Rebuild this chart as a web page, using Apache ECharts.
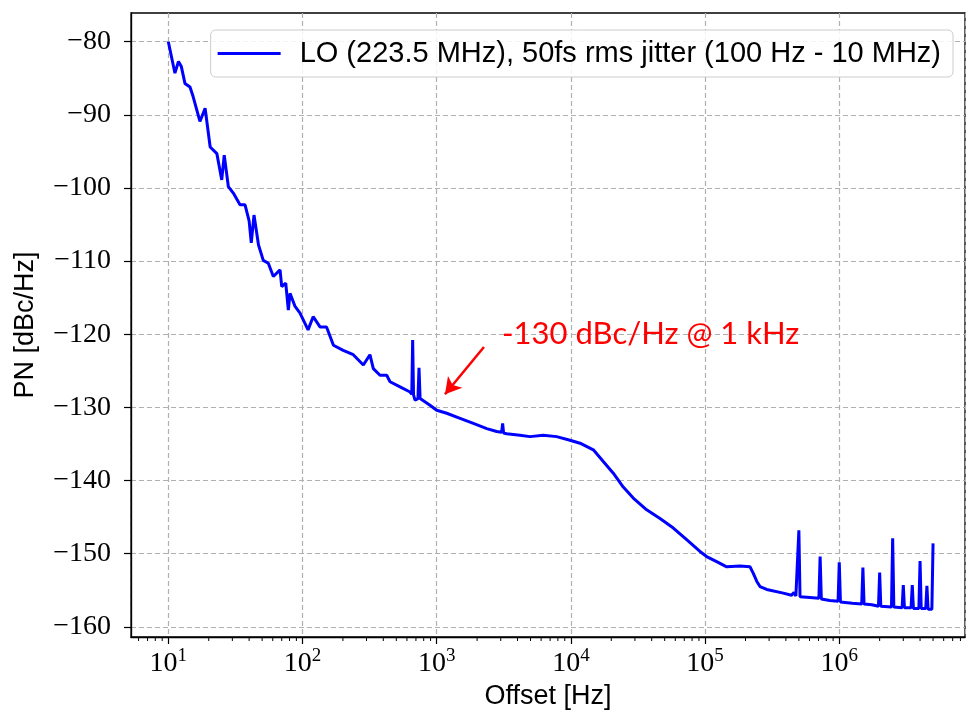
<!DOCTYPE html>
<html>
<head>
<meta charset="utf-8">
<title>LO phase noise</title>
<script src="https://cdn.jsdelivr.net/npm/echarts@6/dist/echarts.min.js"></script>
<style>
  html, body { margin: 0; padding: 0; background: #fff; }
  #chart { width: 966px; height: 715px; }
</style>
</head>
<body>
<div id="chart"></div>
<script>
// offset frequency (Hz) and phase noise (dBc/Hz)
var freqHz = [
  10, 11.2, 11.9, 12.5, 13.3, 14.5, 15.3, 17.2, 18.8, 20.5,
  23, 25, 26.1, 28, 30.5, 34.2, 37.3, 40, 41.5, 43.5,
  47, 51, 55.6, 60.6, 68, 70, 75, 78.4, 80.7, 88,
  95.8, 103, 110, 120, 135, 151, 170, 201, 239, 284,
  318, 337, 378, 424, 449, 533, 633, 652, 662, 672,
  689, 725, 738, 752, 773, 891, 1000, 1188, 1493, 1876,
  2360, 2800, 3050, 3100, 3150, 3324, 4170, 4955, 6223, 7830,
  9840, 11700, 14700, 17430, 20700, 24560, 29170, 36700, 46150, 58000,
  72900, 91600, 102700, 122000, 144900, 182000, 216000, 228800, 243000, 256600,
  288000, 383000, 441000, 460000, 475000, 490000, 500000, 510000, 605000, 705000,
  720000, 735000, 850000, 980000, 1000000, 1020000, 1250000, 1470000, 1500000, 1530000,
  1750000, 1960000, 2000000, 2040000, 2450000, 2500000, 2550000, 2940000, 3000000, 3060000,
  3430000, 3500000, 3570000, 3920000, 4000000, 4080000, 4410000, 4500000, 4590000, 4900000,
  5000000
];
var pnDbc = [
  -80, -84.3, -82.7, -83.4, -85.7, -86.2, -87.5, -90.9, -89.1, -94.4,
  -95.3, -98.9, -95.5, -99.8, -100.7, -102.3, -102.3, -104.5, -107.5, -103.7,
  -107.8, -109.9, -110.3, -112.1, -111.2, -113.5, -113, -116.7, -114.4, -116.2,
  -117.1, -118.3, -119.4, -117.6, -119, -119, -121.5, -122.2, -122.8, -124.2,
  -122.8, -124.7, -125.6, -125.6, -126.5, -127.2, -127.9, -128.2, -120.8, -128.3,
  -129, -128.8, -124.6, -128.8, -128.8, -129.7, -130.4, -130.8, -131.5, -132.2,
  -132.9, -133.3, -133.4, -132.2, -133.5, -133.6, -133.8, -134, -133.8, -134,
  -134.5, -134.9, -135.8, -137.4, -139, -140.9, -142.4, -144, -145.2, -146.5,
  -148.1, -149.7, -150.4, -151.1, -151.8, -151.7, -151.8, -152.7, -153.8, -154.5,
  -154.9, -155.4, -155.7, -155.3, -155.8, -155.8, -146.8, -155.9, -156, -156.1,
  -150.4, -156.2, -156.4, -156.5, -151.2, -156.6, -156.8, -156.9, -151.9, -156.9,
  -157, -157.2, -152.6, -157.2, -157.3, -147.9, -157.3, -157.4, -154.3, -157.4,
  -157.4, -154.3, -157.5, -157.5, -151, -157.5, -157.5, -154.4, -157.6, -157.6,
  -148.6
];

var seriesName = 'LO (223.5 MHz), 50fs rms jitter (100 Hz - 10 MHz)';
var yTicks = [-160, -150, -140, -130, -120, -110, -100, -90, -80];
var xMin = 5.27, xMax = 8.65e6;
var yMin = -161.4, yMax = -76.07;
var minorTicks = [];
[1, 10, 100, 1000, 10000, 100000, 1000000].forEach(function (d) {
  for (var k = 2; k <= 9; k++) {
    var v = k * d;
    if (v > xMin && v < xMax) minorTicks.push(v);
  }
});

var annotText = '-130 dBc/Hz @ 1 kHz';
var annotAt = [3070, -120];
var arrowFrom = [2250, -121.75];
var arrowTo = [1153, -128.2];

var lineData = freqHz.map(function (f, i) { return [f, pnDbc[i]]; });

var chart = echarts.init(document.getElementById('chart'));
var gridLine = { show: true, lineStyle: { color: '#b0b0b0', width: 1.2, type: [5, 3] } };

chart.setOption({
  animation: false,
  backgroundColor: '#fff',
  grid: { left: 131, right: 1, top: 13, bottom: 78, show: true, borderColor: '#000', borderWidth: 1.3 },
  legend: {
    right: 13, top: 30,
    padding: [9, 12, 9, 7],
    itemWidth: 63, itemHeight: 3,
    backgroundColor: 'rgba(255,255,255,0.85)',
    borderColor: '#cccccc', borderWidth: 1, borderRadius: 5,
    data: [{ name: seriesName, icon: 'rect' }],
    textStyle: { fontFamily: 'Liberation Sans', fontSize: 29, color: '#000', padding: [0, 0, 0, 14] }
  },
  xAxis: {
    type: 'log', logBase: 10, min: xMin, max: xMax,
    name: 'Offset [Hz]', nameLocation: 'middle', nameGap: 46,
    nameTextStyle: { fontFamily: 'Liberation Sans', fontSize: 27, color: '#000' },
    axisLine: { show: true, lineStyle: { color: '#000', width: 1.3 } },
    axisTick: { show: true, inside: false, length: 7, lineStyle: { color: '#000', width: 1.2 } },
    splitLine: gridLine,
    axisLabel: {
      margin: 10, showMinLabel: false, showMaxLabel: false,
      formatter: function (v) {
        var e = Math.round(Math.log10(v));
        if (Math.abs(v - Math.pow(10, e)) > 1e-6 * v) return '';
        return '{b|10}{s|' + e + '}';
      },
      rich: {
        b: { fontFamily: 'Liberation Serif', fontSize: 28, color: '#000', lineHeight: 34 },
        s: { fontFamily: 'Liberation Serif', fontSize: 19, color: '#000', verticalAlign: 'top', lineHeight: 20 }
      }
    }
  },
  yAxis: {
    type: 'value', min: yMin, max: yMax,
    name: 'PN [dBc/Hz]', nameLocation: 'middle', nameGap: 92,
    nameTextStyle: { fontFamily: 'Liberation Sans', fontSize: 27, color: '#000' },
    axisLine: { show: true, lineStyle: { color: '#000', width: 1.3 } },
    axisTick: { show: true, inside: false, length: 7, customValues: yTicks, lineStyle: { color: '#000', width: 1.2 } },
    splitLine: gridLine,
    axisLabel: {
      margin: 20, customValues: yTicks,
      fontFamily: 'Liberation Serif', fontSize: 28, color: '#000',
      formatter: function (v) { return v < 0 ? '\u2212' + Math.abs(v) : String(v); }
    }
  },
  series: [
    {
      name: seriesName, type: 'line', data: lineData,
      showSymbol: false, color: '#0000ff',
      lineStyle: { color: '#0000ff', width: 3 },
      z: 3,
      markLine: {
        silent: true, symbol: ['none', 'arrow'], symbolSize: [14, 16],
        lineStyle: { color: '#ff0000', width: 2.5, type: 'solid' },
        label: { show: false },
        data: [[{ coord: arrowFrom }, { coord: arrowTo }]]
      },
      markPoint: {
        silent: true, symbol: 'circle', symbolSize: 0,
        label: {
          show: true, position: 'right', distance: 0,
          formatter: annotText,
          fontFamily: 'Lato', fontSize: 31, color: '#ff0000'
        },
        data: [{ coord: annotAt }]
      }
    },
    {
      type: 'custom', silent: true, clip: false, z: 5,
      data: minorTicks.map(function (v) { return [v, yMin]; }),
      renderItem: function (params, api) {
        var p = api.coord([api.value(0), yMin]);
        return {
          type: 'line',
          shape: { x1: p[0], y1: p[1], x2: p[0], y2: p[1] + 4 },
          style: { stroke: '#000', lineWidth: 1 }
        };
      }
    }
  ]
});
</script>
</body>
</html>
